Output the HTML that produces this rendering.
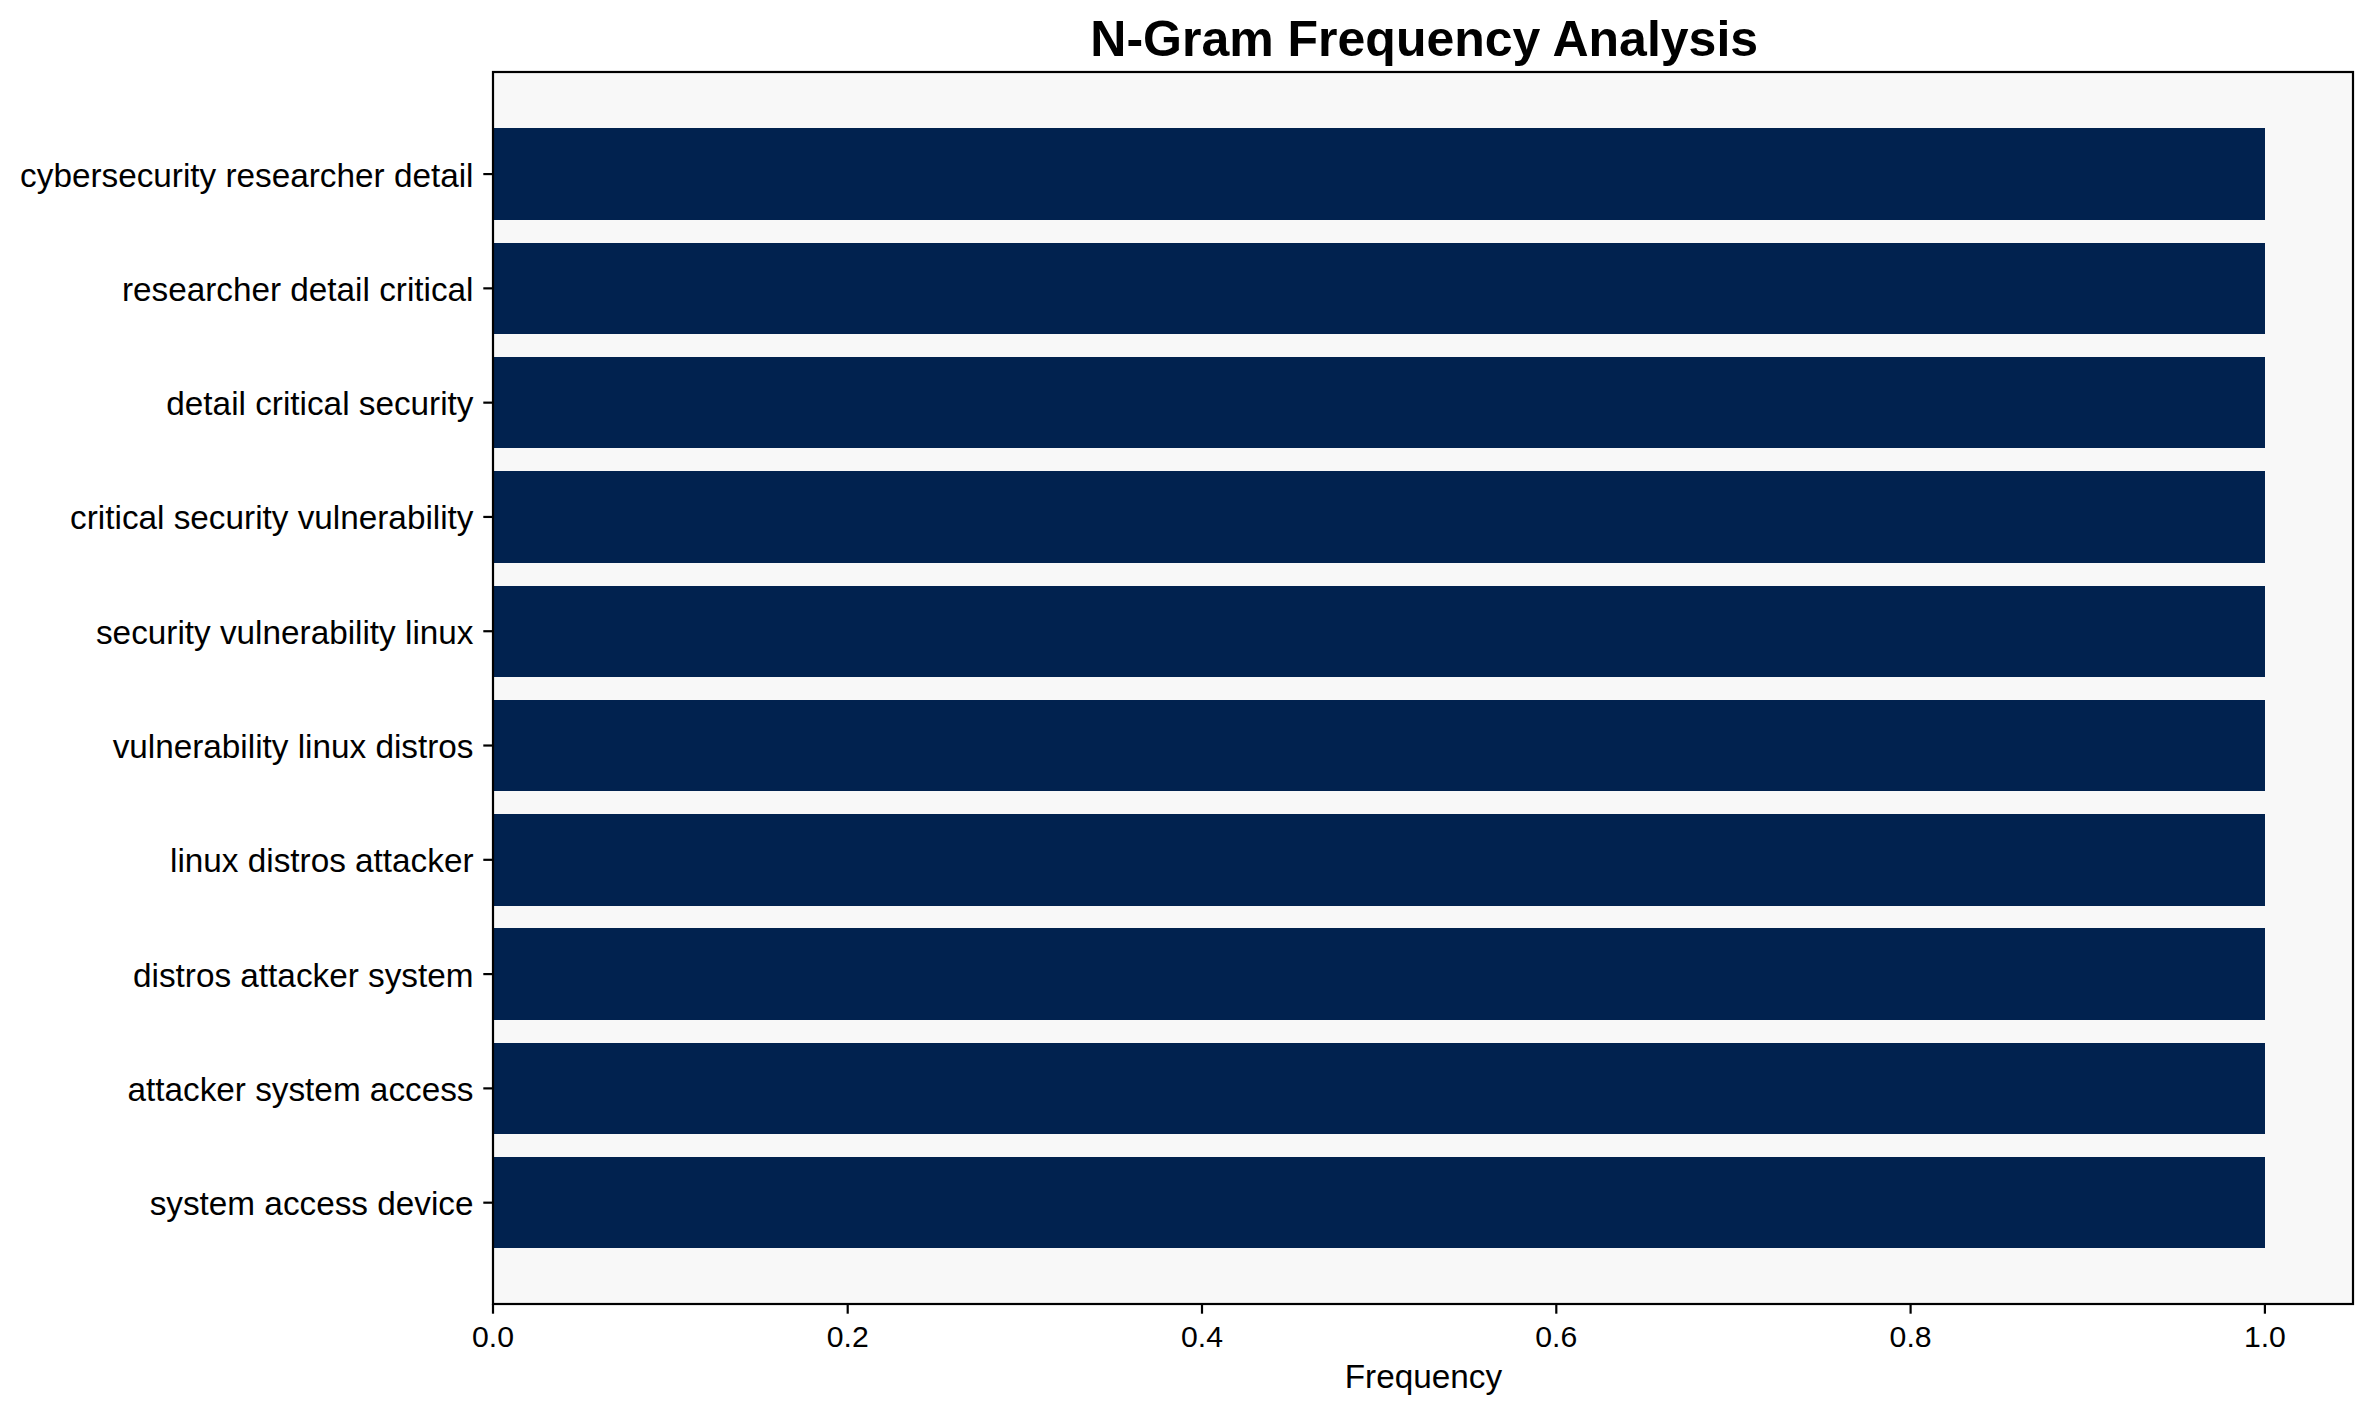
<!DOCTYPE html>
<html><head><meta charset="utf-8"><style>
html,body{margin:0;padding:0;background:#fff;width:2373px;height:1414px;overflow:hidden}
svg{display:block;font-family:"Liberation Sans",sans-serif}
</style></head><body>
<svg width="2373" height="1414" viewBox="0 0 2373 1414">
<rect width="2373" height="1414" fill="#fff"/>
<rect x="493" y="72" width="1860" height="1232" fill="#f8f8f8"/>
<rect x="493" y="128" width="1772" height="92" fill="#01224f"/>
<line x1="483.30" y1="174.07" x2="493" y2="174.07" stroke="#000" stroke-width="2.2"/>
<text x="473.5" y="186.57" text-anchor="end" font-size="33.3">cybersecurity researcher detail</text>
<rect x="493" y="243" width="1772" height="91" fill="#01224f"/>
<line x1="483.30" y1="288.36" x2="493" y2="288.36" stroke="#000" stroke-width="2.2"/>
<text x="473.5" y="300.86" text-anchor="end" font-size="33.3">researcher detail critical</text>
<rect x="493" y="357" width="1772" height="91" fill="#01224f"/>
<line x1="483.30" y1="402.65" x2="493" y2="402.65" stroke="#000" stroke-width="2.2"/>
<text x="473.5" y="415.15" text-anchor="end" font-size="33.3">detail critical security</text>
<rect x="493" y="471" width="1772" height="92" fill="#01224f"/>
<line x1="483.30" y1="516.94" x2="493" y2="516.94" stroke="#000" stroke-width="2.2"/>
<text x="473.5" y="529.44" text-anchor="end" font-size="33.3">critical security vulnerability</text>
<rect x="493" y="586" width="1772" height="91" fill="#01224f"/>
<line x1="483.30" y1="631.23" x2="493" y2="631.23" stroke="#000" stroke-width="2.2"/>
<text x="473.5" y="643.73" text-anchor="end" font-size="33.3">security vulnerability linux</text>
<rect x="493" y="700" width="1772" height="91" fill="#01224f"/>
<line x1="483.30" y1="745.52" x2="493" y2="745.52" stroke="#000" stroke-width="2.2"/>
<text x="473.5" y="758.02" text-anchor="end" font-size="33.3">vulnerability linux distros</text>
<rect x="493" y="814" width="1772" height="92" fill="#01224f"/>
<line x1="483.30" y1="859.81" x2="493" y2="859.81" stroke="#000" stroke-width="2.2"/>
<text x="473.5" y="872.31" text-anchor="end" font-size="33.3">linux distros attacker</text>
<rect x="493" y="928" width="1772" height="92" fill="#01224f"/>
<line x1="483.30" y1="974.10" x2="493" y2="974.10" stroke="#000" stroke-width="2.2"/>
<text x="473.5" y="986.60" text-anchor="end" font-size="33.3">distros attacker system</text>
<rect x="493" y="1043" width="1772" height="91" fill="#01224f"/>
<line x1="483.30" y1="1088.39" x2="493" y2="1088.39" stroke="#000" stroke-width="2.2"/>
<text x="473.5" y="1100.89" text-anchor="end" font-size="33.3">attacker system access</text>
<rect x="493" y="1157" width="1772" height="91" fill="#01224f"/>
<line x1="483.30" y1="1202.68" x2="493" y2="1202.68" stroke="#000" stroke-width="2.2"/>
<text x="473.5" y="1215.18" text-anchor="end" font-size="33.3">system access device</text>
<rect x="493" y="72" width="1860" height="1232" fill="none" stroke="#000" stroke-width="2.2" stroke-linejoin="miter"/>
<line x1="493.00" y1="1304" x2="493.00" y2="1313.70" stroke="#000" stroke-width="2.2"/>
<text x="493.00" y="1346.7" text-anchor="middle" font-size="30.2">0.0</text>
<line x1="847.70" y1="1304" x2="847.70" y2="1313.70" stroke="#000" stroke-width="2.2"/>
<text x="847.70" y="1346.7" text-anchor="middle" font-size="30.2">0.2</text>
<line x1="1202.00" y1="1304" x2="1202.00" y2="1313.70" stroke="#000" stroke-width="2.2"/>
<text x="1202.00" y="1346.7" text-anchor="middle" font-size="30.2">0.4</text>
<line x1="1556.30" y1="1304" x2="1556.30" y2="1313.70" stroke="#000" stroke-width="2.2"/>
<text x="1556.30" y="1346.7" text-anchor="middle" font-size="30.2">0.6</text>
<line x1="1910.60" y1="1304" x2="1910.60" y2="1313.70" stroke="#000" stroke-width="2.2"/>
<text x="1910.60" y="1346.7" text-anchor="middle" font-size="30.2">0.8</text>
<line x1="2264.90" y1="1304" x2="2264.90" y2="1313.70" stroke="#000" stroke-width="2.2"/>
<text x="2264.90" y="1346.7" text-anchor="middle" font-size="30.2">1.0</text>
<text x="1423.4" y="1387.8" text-anchor="middle" font-size="33.3">Frequency</text>
<text x="1424.2" y="56" text-anchor="middle" font-size="50" font-weight="bold">N-Gram Frequency Analysis</text>
</svg></body></html>
